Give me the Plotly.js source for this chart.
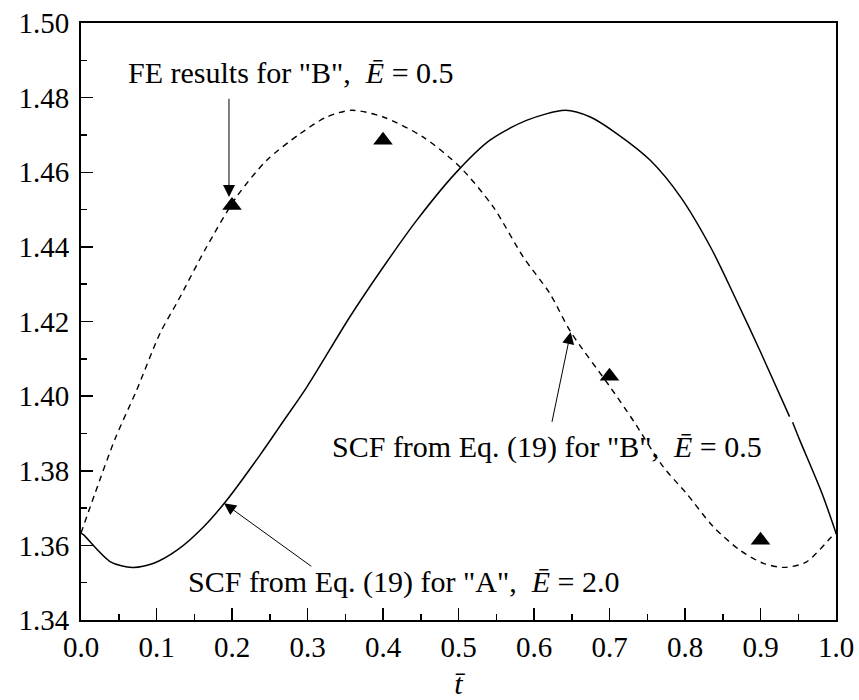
<!DOCTYPE html>
<html>
<head>
<meta charset="utf-8">
<script src="https://cdn.plot.ly/plotly-3.0.1.min.js"></script>
<style>html,body{margin:0;padding:0;background:#fff;}#chart{width:859px;height:700px;}</style>
</head>
<body>
<div id="chart"></div>
<script>
// Series B (dashed): SCF from Eq. (19), E = 0.5
const tB = [0, 0.0185, 0.045, 0.0737, 0.1046, 0.1289, 0.165, 0.206, 0.246, 0.29, 0.3254, 0.3585, 0.4004, 0.4534, 0.502, 0.546, 0.5857, 0.621, 0.6486, 0.7007, 0.7316, 0.771, 0.802, 0.8375, 0.8728, 0.9037, 0.932, 0.961, 0.9965, 1.0];
const vB = [1.3633, 1.3739, 1.3885, 1.4016, 1.4168, 1.4257, 1.4395, 1.4534, 1.4632, 1.4703, 1.4748, 1.4766, 1.4748, 1.4694, 1.4614, 1.4507, 1.4373, 1.4275, 1.4172, 1.4025, 1.3934, 1.3811, 1.3739, 1.3650, 1.3587, 1.3552, 1.3541, 1.3556, 1.3628, 1.3633];
// Series A (solid): SCF from Eq. (19), E = 2.0
const tA = [0, 0.0035, 0.039, 0.068, 0.0963, 0.1272, 0.1625, 0.193, 0.237, 0.2684, 0.2993, 0.356, 0.4004, 0.4446, 0.4976, 0.5417, 0.59, 0.6415, 0.6746, 0.71, 0.754, 0.794, 0.835, 0.868, 0.899, 0.9385, 0.940, 0.9425, 0.952, 0.9815, 1.0];
const vA = [1.3633, 1.3628, 1.3556, 1.3541, 1.3552, 1.3587, 1.3650, 1.3721, 1.3842, 1.3934, 1.4025, 1.4212, 1.4346, 1.4471, 1.4601, 1.4686, 1.4739, 1.4766, 1.4748, 1.4703, 1.4632, 1.4534, 1.4395, 1.4257, 1.4123, 1.3945, null, 1.3930, 1.3882, 1.3739, 1.3633];
// FE results for B
const tFE = [0.2, 0.4, 0.7, 0.9];
const vFE = [1.4511, 1.4686, 1.4053, 1.3614];

const xTicks = [0, 0.1, 0.2, 0.3, 0.4, 0.5, 0.6, 0.7, 0.8, 0.9, 1.0];
const yTicks = [1.34, 1.36, 1.38, 1.40, 1.42, 1.44, 1.46, 1.48, 1.50];

const FONT = 'Liberation Serif';
const FS_TICK = 29;
const FS_TEXT = 30;

const traces = [
  {x: tB, y: vB, type: 'scatter', mode: 'lines', line: {color: '#000', width: 1.4, dash: '6px,5px', shape: 'spline', smoothing: 0.8}, hoverinfo: 'skip'},
  {x: tA, y: vA, type: 'scatter', mode: 'lines', line: {color: '#000', width: 1.5, shape: 'spline', smoothing: 0.8}, connectgaps: false, hoverinfo: 'skip'},
  {x: tFE, y: vFE, type: 'scatter', mode: 'markers', marker: {symbol: 'triangle-up', size: 17, color: '#000'}, hoverinfo: 'skip'}
];

const layout = {
  width: 859, height: 700,
  margin: {l: 81, r: 23, t: 23, b: 80},
  paper_bgcolor: '#fff', plot_bgcolor: '#fff',
  showlegend: false,
  font: {family: FONT, size: FS_TICK, color: '#000'},
  xaxis: {
    range: [0, 1], tickvals: xTicks, ticktext: xTicks.map(v => v.toFixed(1)),
    ticks: 'inside', ticklen: 12, tickwidth: 1.5, tickcolor: '#000',
    minor: {ticks: 'inside', ticklen: 6, tickwidth: 1.5, tickcolor: '#000', dtick: 0.05, showgrid: false},
    showline: true, linewidth: 2, linecolor: '#000', mirror: true,
    showgrid: false, zeroline: false,
    tickfont: {family: FONT, size: FS_TICK, color: '#000'},
    title: {text: '<i>t\u0304</i>', font: {family: FONT, size: FS_TEXT, color: '#000'}, standoff: 11}
  },
  yaxis: {
    range: [1.34, 1.50], tickvals: yTicks, ticktext: yTicks.map(v => v.toFixed(2)),
    ticks: 'inside', ticklen: 12, tickwidth: 1.5, tickcolor: '#000',
    minor: {ticks: 'inside', ticklen: 6, tickwidth: 1.5, tickcolor: '#000', dtick: 0.01, showgrid: false},
    showline: true, linewidth: 2, linecolor: '#000', mirror: true,
    showgrid: false, zeroline: false, ticklabelstandoff: 4,
    tickfont: {family: FONT, size: FS_TICK, color: '#000'}
  },
  annotations: [
    {x: 0.196, y: 1.4534, ax: 0.196, ay: 1.4801, xref: 'x', yref: 'y', axref: 'x', ayref: 'y', text: '', showarrow: true, arrowhead: 2, arrowsize: 2.4, arrowwidth: 1, arrowcolor: '#000'},
    {x: 0.6486, y: 1.4172, ax: 0.6234, ay: 1.3927, xref: 'x', yref: 'y', axref: 'x', ayref: 'y', text: '', showarrow: true, arrowhead: 2, arrowsize: 2.4, arrowwidth: 1, arrowcolor: '#000'},
    {x: 0.1894, y: 1.3713, ax: 0.307, ay: 1.3541, xref: 'x', yref: 'y', axref: 'x', ayref: 'y', text: '', showarrow: true, arrowhead: 2, arrowsize: 2.4, arrowwidth: 1, arrowcolor: '#000'},
    {x: 0.0596, y: 1.4868, xref: 'x', yref: 'y', xanchor: 'left', yanchor: 'middle', showarrow: false, text: 'FE results for "B",  <i>Ē</i> = 0.5', font: {family: FONT, size: FS_TEXT, color: '#000'}},
    {x: 0.330, y: 1.3863, xref: 'x', yref: 'y', xanchor: 'left', yanchor: 'middle', showarrow: false, text: 'SCF from Eq. (19) for "B",  <i>Ē</i> = 0.5', font: {family: FONT, size: FS_TEXT, color: '#000'}},
    {x: 0.139, y: 1.3502, xref: 'x', yref: 'y', xanchor: 'left', yanchor: 'middle', showarrow: false, text: 'SCF from Eq. (19) for "A",  <i>Ē</i> = 2.0', font: {family: FONT, size: FS_TEXT, color: '#000'}}
  ]
};

Plotly.newPlot('chart', traces, layout, {displayModeBar: false, staticPlot: true});
</script>
</body>
</html>
